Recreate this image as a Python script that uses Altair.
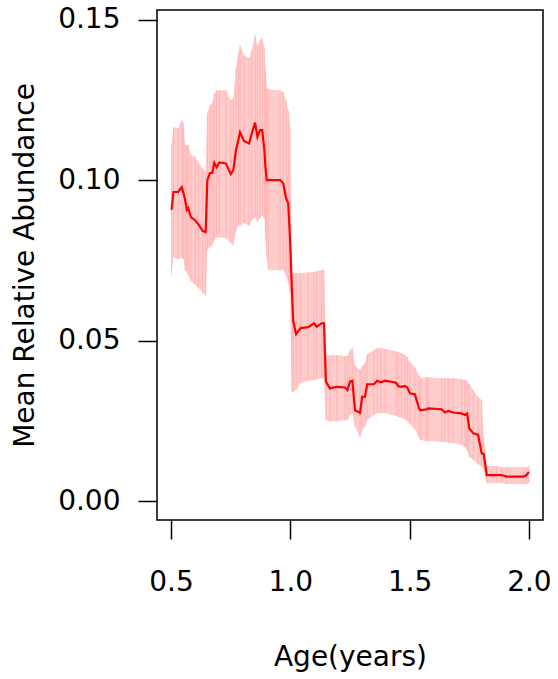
import altair as alt
import pandas as pd

age = [0.502, 0.510, 0.529, 0.545, 0.552, 0.559, 0.566, 0.572, 0.583, 0.601,
       0.614, 0.633, 0.645, 0.652, 0.663, 0.673, 0.681, 0.691, 0.702, 0.730,
       0.750, 0.761, 0.772, 0.782, 0.789, 0.806, 0.827, 0.838, 0.852, 0.862,
       0.873, 0.882, 0.891, 0.896, 0.901, 0.908, 0.957, 0.970, 0.982, 0.991,
       0.999, 1.006, 1.012, 1.024, 1.043, 1.075, 1.099, 1.110, 1.131, 1.141,
       1.149, 1.166, 1.194, 1.229, 1.239, 1.250, 1.260, 1.271, 1.292, 1.301,
       1.313, 1.322, 1.350, 1.364, 1.379, 1.397, 1.443, 1.452, 1.467, 1.480,
       1.490, 1.501, 1.522, 1.539, 1.546, 1.571, 1.578, 1.634, 1.648, 1.662,
       1.683, 1.718, 1.732, 1.741, 1.750, 1.767, 1.787, 1.802, 1.811, 1.823,
       1.864, 1.885, 1.906, 1.976, 1.990, 2.000]

mean = [0.0907, 0.0963, 0.0963, 0.0978, 0.0959, 0.0938, 0.0907, 0.0913, 0.0885, 0.0875,
        0.0863, 0.0841, 0.0838, 0.1000, 0.1022, 0.1023, 0.1054, 0.1040, 0.1055, 0.1052,
        0.1019, 0.1031, 0.1093, 0.1125, 0.1149, 0.1122, 0.1114, 0.1145, 0.1179, 0.1135,
        0.1156, 0.1156, 0.1093, 0.1037, 0.1000, 0.1000, 0.1000, 0.0990, 0.0944, 0.0928,
        0.0813, 0.0667, 0.0561, 0.0520, 0.0539, 0.0542, 0.0554, 0.0543, 0.0554, 0.0554,
        0.0372, 0.0351, 0.0356, 0.0354, 0.0346, 0.0372, 0.0375, 0.0283, 0.0275, 0.0325,
        0.0325, 0.0364, 0.0364, 0.0375, 0.0370, 0.0375, 0.0369, 0.0358, 0.0356, 0.0359,
        0.0354, 0.0336, 0.0333, 0.0289, 0.0283, 0.0286, 0.0289, 0.0286, 0.0276, 0.0281,
        0.0276, 0.0273, 0.0268, 0.0273, 0.0226, 0.0211, 0.0206, 0.0149, 0.0146, 0.0081,
        0.0081, 0.0081, 0.0076, 0.0076, 0.0081, 0.0091]

upper = [0.1109, 0.1165, 0.1162, 0.1187, 0.1178, 0.1109, 0.1109, 0.1109, 0.1078, 0.1072,
         0.1056, 0.1037, 0.1025, 0.1209, 0.1234, 0.1240, 0.1271, 0.1280, 0.1280, 0.1280,
         0.1249, 0.1255, 0.1349, 0.1396, 0.1420, 0.1389, 0.1380, 0.1405, 0.1452, 0.1420,
         0.1436, 0.1442, 0.1411, 0.1343, 0.1287, 0.1283, 0.1280, 0.1274, 0.1249, 0.1218,
         0.1165, 0.0710, 0.0710, 0.0710, 0.0710, 0.0713, 0.0713, 0.0716, 0.0720, 0.0723,
         0.0455, 0.0455, 0.0455, 0.0452, 0.0452, 0.0470, 0.0477, 0.0421, 0.0408, 0.0421,
         0.0430, 0.0458, 0.0470, 0.0477, 0.0477, 0.0474, 0.0467, 0.0464, 0.0461, 0.0455,
         0.0449, 0.0433, 0.0417, 0.0393, 0.0383, 0.0386, 0.0386, 0.0383, 0.0383, 0.0383,
         0.0383, 0.0380, 0.0377, 0.0374, 0.0364, 0.0346, 0.0324, 0.0315, 0.0199, 0.0109,
         0.0109, 0.0106, 0.0106, 0.0106, 0.0106, 0.0109]

lower = [0.0704, 0.0760, 0.0754, 0.0757, 0.0754, 0.0720, 0.0713, 0.0704, 0.0685, 0.0673,
         0.0664, 0.0648, 0.0639, 0.0782, 0.0791, 0.0797, 0.0813, 0.0822, 0.0822, 0.0819,
         0.0804, 0.0797, 0.0838, 0.0860, 0.0857, 0.0866, 0.0857, 0.0875, 0.0885, 0.0869,
         0.0882, 0.0888, 0.0882, 0.0813, 0.0760, 0.0720, 0.0720, 0.0720, 0.0704, 0.0679,
         0.0648, 0.0340, 0.0340, 0.0346, 0.0368, 0.0374, 0.0377, 0.0380, 0.0383, 0.0383,
         0.0252, 0.0249, 0.0249, 0.0252, 0.0252, 0.0268, 0.0274, 0.0231, 0.0199, 0.0221,
         0.0231, 0.0252, 0.0268, 0.0274, 0.0274, 0.0274, 0.0265, 0.0262, 0.0259, 0.0255,
         0.0249, 0.0240, 0.0224, 0.0199, 0.0190, 0.0187, 0.0187, 0.0184, 0.0184, 0.0181,
         0.0181, 0.0174, 0.0168, 0.0159, 0.0137, 0.0128, 0.0115, 0.0106, 0.0097, 0.0056,
         0.0056, 0.0056, 0.0053, 0.0053, 0.0053, 0.0056]

x_ticks = [0.5, 1.0, 1.5, 2.0]
y_ticks = [0.0, 0.05, 0.10, 0.15]

df = pd.DataFrame({"age": age, "mean": mean, "upper": upper, "lower": lower})

FONT = "DejaVu Sans"
FS = 28

x_enc = alt.X(
    "age:Q",
    scale=alt.Scale(domain=[0.441, 2.059], nice=False, zero=False),
    axis=alt.Axis(
        values=x_ticks, format=".1f", title="Age(years)", grid=False, domain=False,
        tickSize=19, tickWidth=1.5, tickColor="black", labelPadding=29,
        labelFont=FONT, labelFontSize=FS, labelColor="black",
        titleFont=FONT, titleFontSize=FS, titleFontWeight="normal", titleColor="black",
        titleBaseline="alphabetic", titleY=145,
    ),
)
y_scale = alt.Scale(domain=[-0.0059, 0.153], nice=False, zero=False)
y_axis = alt.Axis(
    values=y_ticks, format=".2f", title="Mean Relative Abundance", grid=False, domain=False,
    tickSize=19, tickWidth=1.5, tickColor="black", labelPadding=18,
    labelFont=FONT, labelFontSize=FS, labelColor="black",
    titleFont=FONT, titleFontSize=FS, titleFontWeight="normal", titleColor="black",
    titleBaseline="alphabetic", titleX=-124, titleAngle=-90,
)

base = alt.Chart(df)

band = base.mark_area(color="#FFCCCC", opacity=1.0).encode(
    x=x_enc,
    y=alt.Y("lower:Q", scale=y_scale, axis=y_axis),
    y2="upper:Q",
)
stripes = base.mark_rule(color="#FF9A9A", opacity=0.45, strokeWidth=1).encode(
    x="age:Q", y="lower:Q", y2="upper:Q"
)
line = base.mark_line(color="#FF0000", strokeWidth=2.2).encode(
    x="age:Q", y="mean:Q"
)

chart = (
    alt.layer(band, stripes, line)
    .properties(
        width=386, height=510,
        padding={"left": 157, "top": 10, "right": 15, "bottom": 159},
        autosize=alt.AutoSizeParams(type="none"),
        background="white",
    )
    .configure_view(stroke="black", strokeWidth=1.5)
)

chart.save("out.html", embed_options={"renderer": "svg", "actions": False})
